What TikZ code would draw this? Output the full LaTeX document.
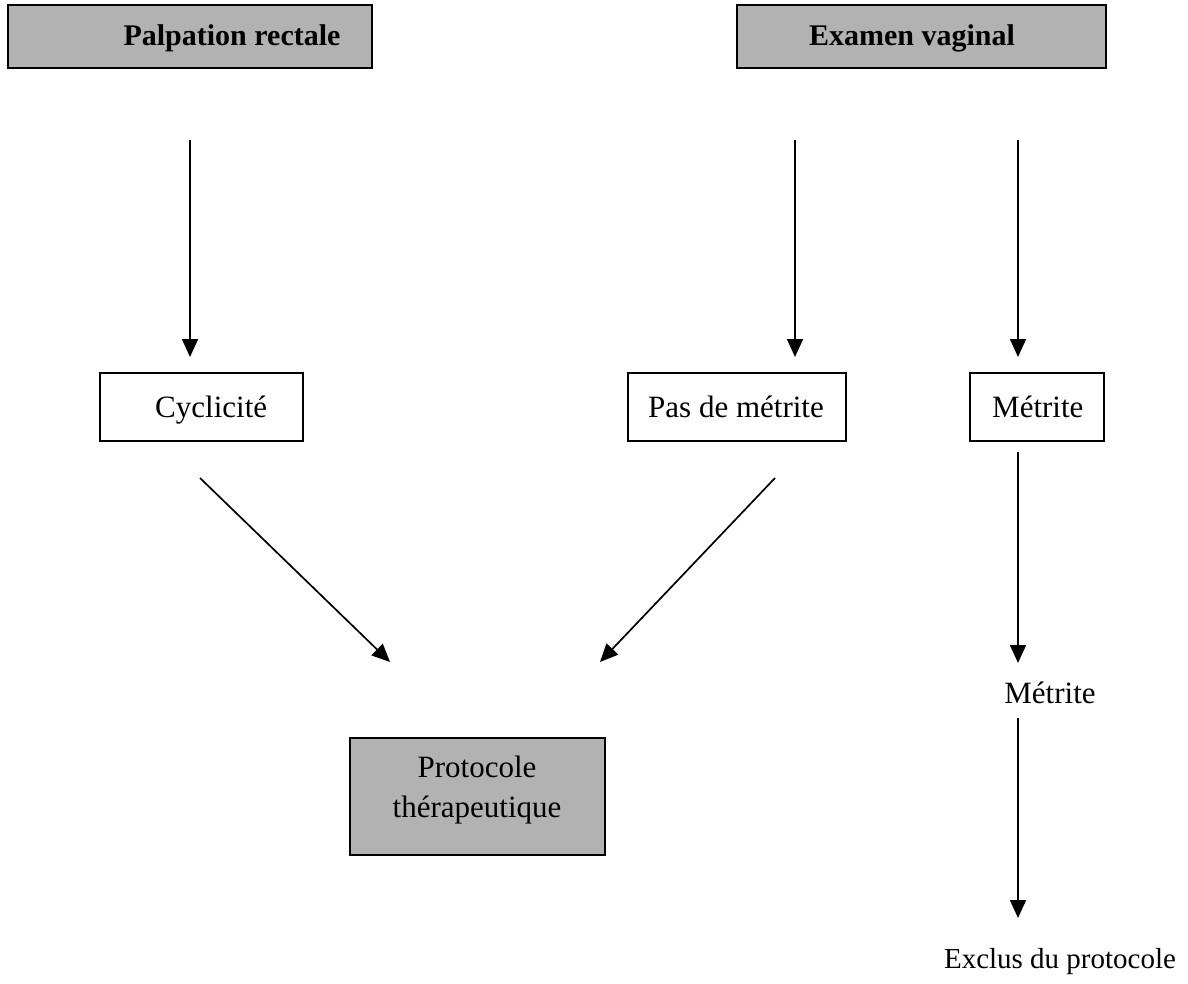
\documentclass[tikz,border=0pt]{standalone}
\usepackage{fontspec}
\setmainfont{Liberation Serif}
\usetikzlibrary{arrows.meta}
\begin{document}
\begin{tikzpicture}[x=1pt,y=-1pt,
  graybox/.style={draw=black, line width=2.5pt, fill=black!30, inner sep=0pt},
  whitebox/.style={draw=black, line width=1.6pt, fill=white, inner sep=0pt},
  lbl/.style={font=\fontsize{31}{37}\selectfont, inner sep=0pt},
  blbl/.style={font=\fontsize{30}{36}\selectfont\bfseries, inner sep=0pt},
  arr/.style={line width=1.7pt, -{Triangle[length=18pt,width=16pt]}}]
\useasboundingbox (0,0) rectangle (1188,984);
% top boxes
\node[graybox, minimum width=364pt, minimum height=63pt] (palp) at (190,36.5) {};
\node[blbl, anchor=base] (palpt) at (232,46) {Palpation rectale};
\node[graybox, minimum width=369pt, minimum height=63pt] (exam) at (921.5,36.5) {};
\node[blbl, anchor=base] (examt) at (912,46) {Examen vaginal};
% middle boxes
\node[whitebox, minimum width=203pt, minimum height=68pt] (cyc) at (201.5,407) {};
\node[lbl, anchor=base west] (cyct) at (155,417) {Cyclicité};
\node[whitebox, minimum width=218pt, minimum height=68pt] (pas) at (737,407) {};
\node[lbl, anchor=base west] (past) at (648,417) {Pas de métrite};
\node[whitebox, minimum width=134pt, minimum height=68pt] (met) at (1037,407) {};
\node[lbl, anchor=base west] (mett) at (992,417) {Métrite};
% protocole
\node[graybox, minimum width=255pt, minimum height=117pt] (prot) at (477.5,796.5) {};
\node[lbl, align=center, font=\fontsize{31}{40}\selectfont] (prott) at (477,790) {Protocole\\thérapeutique};
% lower labels
\node[lbl] (met2) at (1050,693) {Métrite};
\node[font=\fontsize{29}{35}\selectfont, inner sep=0pt] (excl) at (1060,962) {Exclus du protocole};
% arrow coordinates
\coordinate (a1s) at (190,140); \coordinate (a1e) at (190,357);
\coordinate (a2s) at (795,140); \coordinate (a2e) at (795,357);
\coordinate (a3s) at (1018,140); \coordinate (a3e) at (1018,357);
\coordinate (d1s) at (200,478); \coordinate (d1e) at (390,662);
\coordinate (d2s) at (775,478); \coordinate (d2e) at (600,662);
\coordinate (b1s) at (1018,452); \coordinate (b1e) at (1018,663);
\coordinate (b2s) at (1018,718); \coordinate (b2e) at (1018,918);
\draw[arr] (a1s) -- (a1e);
\draw[arr] (a2s) -- (a2e);
\draw[arr] (a3s) -- (a3e);
\draw[arr] (d1s) -- (d1e);
\draw[arr] (d2s) -- (d2e);
\draw[arr] (b1s) -- (b1e);
\draw[arr] (b2s) -- (b2e);
\end{tikzpicture}
\end{document}
